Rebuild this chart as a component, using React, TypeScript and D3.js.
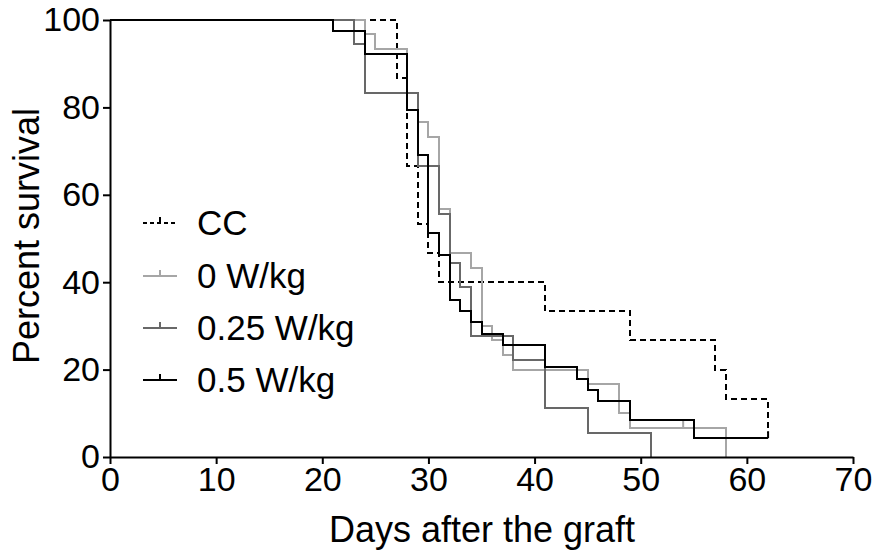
import React, { useRef, useEffect } from 'react';
import * as d3 from 'd3';

// Kaplan-Meier steps: day of each step and survival after it
const ccDays = [0, 27, 28, 29, 30, 31, 41, 49, 57, 58, 62];
const ccSurv = [100, 86.7, 66.7, 53.3, 46.7, 40, 33.3, 26.7, 20, 13.3, 5.5];

const w0Days = [0, 24, 25, 28, 29, 30, 31, 32, 34, 35, 36, 37, 38, 45, 48, 49, 58];
const w0Surv = [100, 96.7, 93.3, 83.3, 76.7, 73.3, 56.7, 46.7, 43.3, 30, 26.7, 23.3, 20, 16.7, 10, 6.7, 0];
const w0Censored = [[54, 6.7]];

const w025Days = [0, 23, 24, 29, 31, 32, 33, 34, 38, 41, 45, 51];
const w025Surv = [100, 94.4, 83.3, 66.7, 55.6, 44.4, 38.9, 27.8, 22.2, 11.1, 5.6, 0];

const w05Days = [0, 21, 24, 28, 29, 30, 31, 32, 33, 34, 35, 37, 41, 44, 45, 46, 49, 55, 62];
const w05Surv = [100, 97.4, 92.3, 79.5, 69.2, 51.3, 46.2, 35.9, 33.3, 30.8, 28.2, 25.6, 20.5, 17.9, 15.4, 12.8, 8.5, 4.3, 4.3];
const w05Censored = [[62, 4.3]];

const xTicks = [0, 10, 20, 30, 40, 50, 60, 70];
const yTicks = [0, 20, 40, 60, 80, 100];

const seriesList = [
  { name: "CC", days: ccDays, surv: ccSurv, censored: [], color: "#000000", dash: "6,4" },
  { name: "0 W/kg", days: w0Days, surv: w0Surv, censored: w0Censored, color: "#a6a6a6", dash: null },
  { name: "0.25 W/kg", days: w025Days, surv: w025Surv, censored: [], color: "#686868", dash: null },
  { name: "0.5 W/kg", days: w05Days, surv: w05Surv, censored: w05Censored, color: "#000000", dash: null },
];

const FONT = "'Liberation Sans', Arial, sans-serif";

export default function App() {
  const ref = useRef(null);
  const width = 874;
  const height = 552;

  useEffect(() => {
    const svg = d3.select(ref.current);
    svg.selectAll("*").remove();

    const x = d3.scaleLinear().domain([0, 70]).range([110, 853]);
    const y = d3.scaleLinear().domain([0, 100]).range([457, 20]);

    const line = d3.line()
      .x(d => x(d[0]))
      .y(d => y(d[1]))
      .curve(d3.curveStepAfter);

    // Curves (black last so it sits on top at 100%)
    seriesList.forEach(s => {
      const pts = s.days.map((d, i) => [d, s.surv[i]]);
      svg.append("path")
        .attr("d", line(pts))
        .attr("fill", "none")
        .attr("stroke", s.color)
        .attr("stroke-width", 2)
        .attr("stroke-dasharray", s.dash)
        .attr("shape-rendering", "crispEdges");

      s.censored.forEach(c => {
        svg.append("line")
          .attr("x1", x(c[0])).attr("x2", x(c[0]))
          .attr("y1", y(c[1])).attr("y2", y(c[1]) - 7)
          .attr("stroke", s.color)
          .attr("stroke-width", 2);
      });
    });

    // Y axis
    const yAxis = svg.append("g")
      .attr("transform", `translate(${x(0)},0)`)
      .call(d3.axisLeft(y).tickValues(yTicks).tickSize(7).tickPadding(3).tickSizeOuter(0));
    yAxis.select(".domain").attr("stroke-width", 2);
    yAxis.selectAll(".tick line").attr("stroke-width", 2);
    yAxis.selectAll("text").attr("font-size", 34).attr("font-family", FONT).attr("fill", "#000");

    // X axis
    const xAxis = svg.append("g")
      .attr("transform", `translate(0,${y(0)})`)
      .call(d3.axisBottom(x).tickValues(xTicks).tickSize(7).tickPadding(3).tickSizeOuter(0));
    xAxis.select(".domain").attr("stroke-width", 2);
    xAxis.selectAll(".tick line").attr("stroke-width", 2);
    xAxis.selectAll("text").attr("font-size", 34).attr("font-family", FONT).attr("fill", "#000");

    // Axis titles
    svg.append("text")
      .attr("x", 482)
      .attr("y", 542)
      .attr("text-anchor", "middle")
      .attr("font-size", 36)
      .attr("font-family", FONT)
      .text("Days after the graft");

    svg.append("text")
      .attr("transform", "translate(26,236) rotate(-90)")
      .attr("text-anchor", "middle")
      .attr("dy", "0.35em")
      .attr("font-size", 36)
      .attr("font-family", FONT)
      .text("Percent survival");

    // Legend
    const legendRows = [223, 276, 328, 380];
    seriesList.forEach((s, i) => {
      const ly = legendRows[i];
      svg.append("line")
        .attr("x1", 143).attr("x2", 177)
        .attr("y1", ly).attr("y2", ly)
        .attr("stroke", s.color)
        .attr("stroke-width", 2)
        .attr("stroke-dasharray", s.dash ? "4,3" : null);
      svg.append("line")
        .attr("x1", 160).attr("x2", 160)
        .attr("y1", ly).attr("y2", ly - 6)
        .attr("stroke", s.color)
        .attr("stroke-width", 2);
      svg.append("text")
        .attr("x", 197)
        .attr("y", ly)
        .attr("dy", "0.35em")
        .attr("font-size", 35)
        .attr("font-family", FONT)
        .text(s.name);
    });
  }, []);

  return (
    <svg
      ref={ref}
      width={width}
      height={height}
      style={{ position: "absolute", left: 0, top: 0, background: "#fff" }}
    ></svg>
  );
}
